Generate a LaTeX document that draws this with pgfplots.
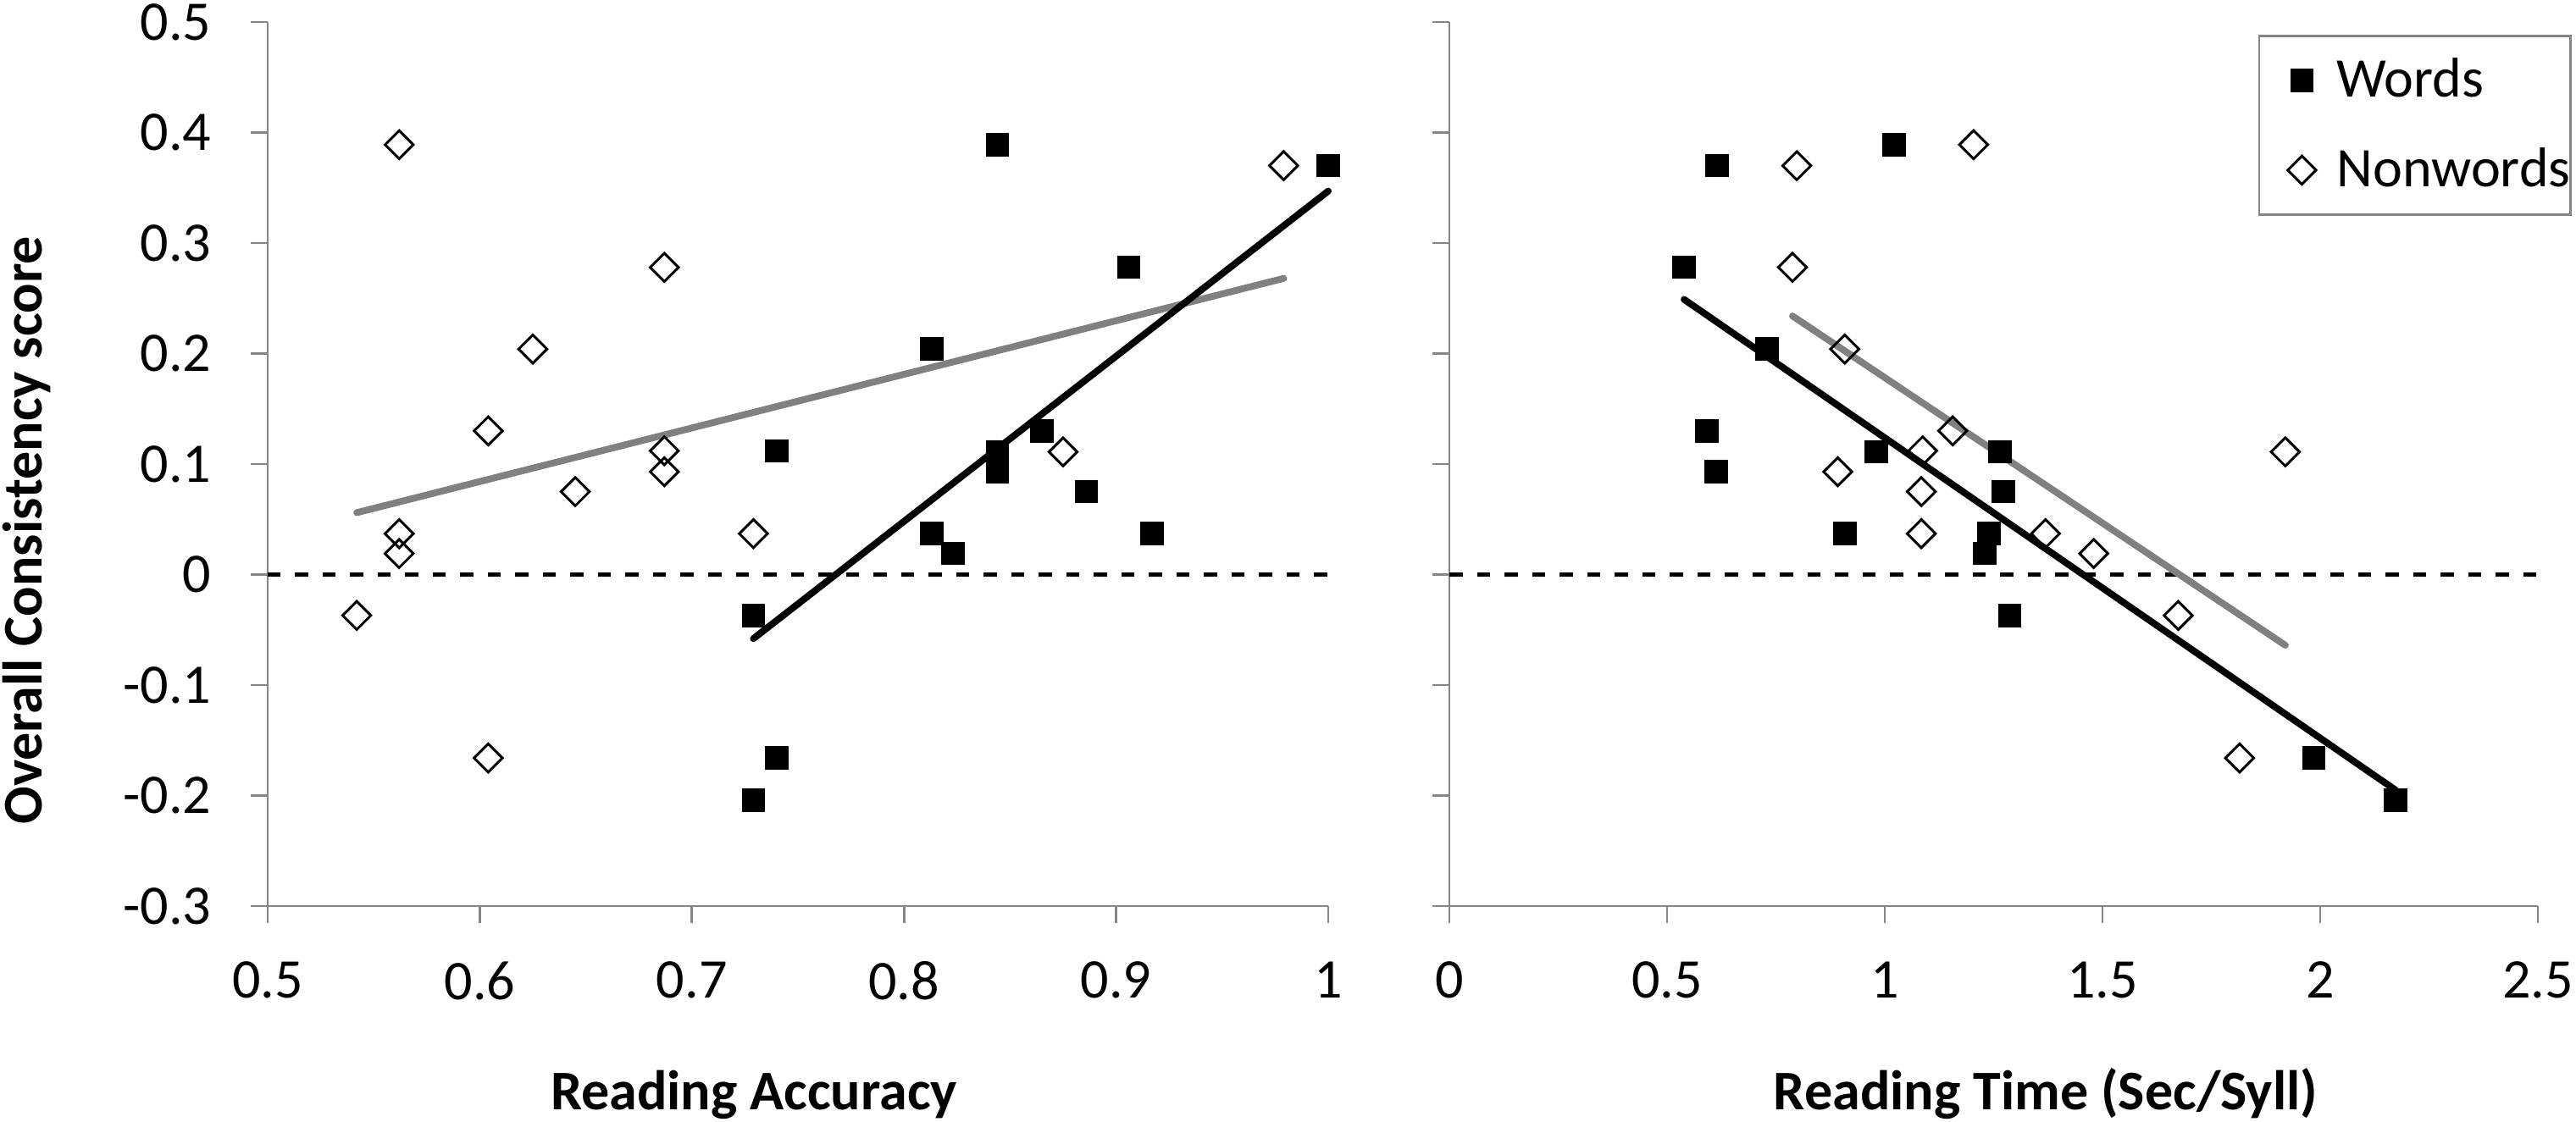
\documentclass[border=0pt]{standalone}
\usepackage{fontspec}
\setmainfont{Carlito}
\usepackage{pgfplots}
\pgfplotsset{compat=1.18}
\definecolor{axisgray}{RGB}{134,134,134}
\definecolor{trendgray}{RGB}{128,128,128}
\newcommand{\chartfont}{\fontsize{18.8}{22}\selectfont}
\pgfplotsset{
  myaxis/.style={
    scale only axis,
    height=104.4mm,
    axis lines=left,
    axis line style={-, draw=axisgray, line width=0.28mm},
    tick align=outside,
    major tick length=2mm,
    tick style={draw=axisgray, line width=0.28mm},
    ymin=-0.3, ymax=0.5,
    ytick={-0.3,-0.2,-0.1,0,0.1,0.2,0.3,0.4,0.5},
    /pgf/number format/assume math mode=true,
    /pgf/number format/fixed,
    /pgf/number format/precision=1,
    tick label style={font=\chartfont},
    yticklabel style={anchor=east, inner sep=0pt},
    xticklabel style={anchor=north, inner sep=0pt},
    yticklabel shift=4.6mm,
    xticklabel shift=4.5mm,
    label style={font=\chartfont\bfseries},
    clip=false,
  },
  words/.style={only marks, mark=square*, mark size=1.33mm,
    mark options={fill=black, draw=black, line width=0.1mm},
    legend image code/.code={\path (0mm,0mm) (8.9mm,0mm);\draw[mark repeat=2,mark phase=2,##1] plot coordinates {(0mm,0mm)(4.9mm,0mm)(8.9mm,0mm)};}},
  nonwords/.style={only marks, mark=square, mark size=1.18mm,
    mark options={rotate=45, draw=black, line width=0.3mm, fill=none},
    legend image code/.code={\path (0mm,0mm) (8.9mm,0mm);\draw[mark repeat=2,mark phase=2,##1] plot coordinates {(0mm,0mm)(4.9mm,0mm)(8.9mm,0mm)};}},
  trend/.style={no marks, line width=0.8mm, line cap=round, forget plot},
  zeroline/.style={no marks, black, line width=0.45mm, dash pattern=on 1.55mm off 1.7mm, forget plot},
}

\pgfplotstableread{
x y
0.729 -0.037
0.729 -0.204
0.740 -0.166
0.740 0.112
0.813 0.204
0.813 0.037
0.823 0.019
0.844 0.389
0.844 0.111
0.844 0.093
0.865 0.130
0.886 0.075
0.906 0.278
0.917 0.037
1.000 0.370
}\accwords

\pgfplotstableread{
x y
0.542 -0.037
0.562 0.389
0.562 0.037
0.562 0.019
0.604 0.130
0.604 -0.166
0.625 0.204
0.645 0.075
0.687 0.278
0.687 0.112
0.687 0.093
0.729 0.037
0.875 0.111
0.979 0.370
}\accnonwords

\pgfplotstableread{
x y
0.539 0.278
0.591 0.130
0.613 0.093
0.615 0.370
0.729 0.204
0.908 0.037
0.980 0.111
1.021 0.389
1.229 0.019
1.239 0.037
1.264 0.111
1.272 0.075
1.287 -0.037
1.985 -0.166
2.173 -0.204
}\timewords

\pgfplotstableread{
x y
0.788 0.278
0.798 0.370
0.892 0.093
0.908 0.204
1.084 0.037
1.084 0.075
1.087 0.112
1.156 0.130
1.204 0.389
1.369 0.037
1.480 0.019
1.674 -0.037
1.815 -0.166
1.920 0.111
}\timenonwords

\begin{document}
\begin{tikzpicture}
\path[use as bounding box] (0,0) rectangle (304.1mm,132.5mm);

\begin{axis}[myaxis,
  at={(31.6mm,25.5mm)}, anchor=south west,
  width=125.2mm,
  xmin=0.5, xmax=1,
  xtick={0.5,0.6,0.7,0.8,0.9,1},
  xlabel={Reading Accuracy},
  ylabel={Overall Consistency score},
  xlabel style={at={(axis description cs:0.4585,-0.2299)}, anchor=base},
  ylabel style={at={(axis description cs:-0.2125,0.425)}, anchor=base, rotate=0},
]
\addplot[zeroline] coordinates {(0.5,0) (1,0)};
\addplot[words] table[x=x,y=y] {\accwords};
\addplot[nonwords] table[x=x,y=y] {\accnonwords};
\addplot[trend, trendgray] coordinates {(0.542,0.056) (0.979,0.268)};
\addplot[trend, black] coordinates {(0.729,-0.058) (1.0,0.347)};
\end{axis}

\begin{axis}[myaxis,
  at={(171.1mm,25.5mm)}, anchor=south west,
  width=128.5mm,
  xmin=0, xmax=2.5,
  xtick={0,0.5,1,1.5,2,2.5},
  yticklabels={},
  xlabel={Reading Time (Sec/Syll)},
  xlabel style={at={(axis description cs:0.5479,-0.2299)}, anchor=base},
  legend cell align=left,
  legend style={at={(axis description cs:1.0312,0.9856)}, anchor=north east,
    draw=axisgray, line width=0.28mm, inner xsep=0pt, inner ysep=0.3mm,
    row sep=0.7mm, column sep=0pt, font=\chartfont,
    nodes={inner sep=0pt, text height=6.9mm, text depth=3.0mm}},
]
\addplot[zeroline] coordinates {(0,0) (2.5,0)};
\addplot[words] table[x=x,y=y] {\timewords};
\addlegendentry{Words}
\addplot[nonwords] table[x=x,y=y] {\timenonwords};
\addlegendentry{Nonwords\hspace{2.3mm}}
\addplot[trend, black] coordinates {(0.539,0.249) (2.173,-0.195)};
\addplot[trend, trendgray] coordinates {(0.788,0.234) (1.920,-0.064)};
\end{axis}
\end{tikzpicture}
\end{document}
